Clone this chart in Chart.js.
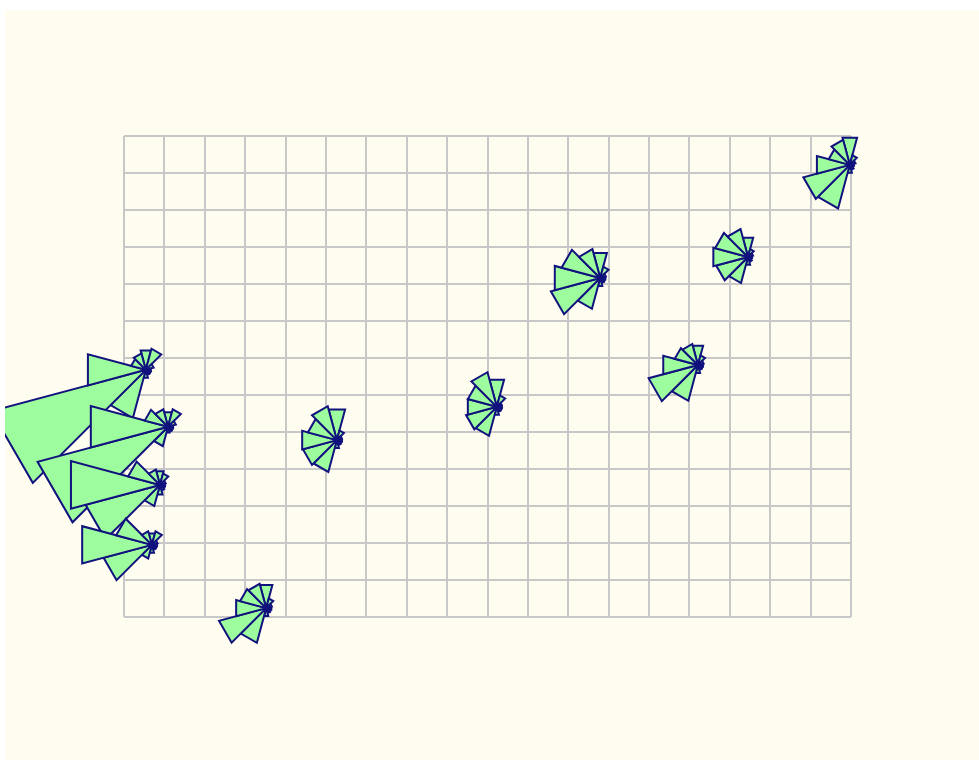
<!DOCTYPE html>
<html>
<head>
<meta charset="utf-8">
<script src="https://cdn.jsdelivr.net/npm/chart.js@4/dist/chart.umd.min.js"></script>
<style>
  html, body { margin: 0; padding: 0; background: #ffffff; }
  #frame { position: absolute; left: 5px; top: 10px; width: 974px; height: 750px; background: #fffdf0; }
  canvas { display: block; }
</style>
</head>
<body>
<div id="frame"><canvas id="c" width="974" height="750"></canvas></div>
<script>
// Station positions on the grid (grid units)
const stationX = [0.54, 1.09, 0.89, 0.69, 3.52, 5.27, 9.23, 11.79, 14.21, 15.45, 17.97];
const stationY = [6.68, 5.14, 3.57, 1.95, 0.24, 4.78, 5.68, 9.16, 6.81, 9.73, 12.22];

// Sector bearings in degrees (0 = north, clockwise)
const directions = [0, 30, 60, 90, 120, 150, 180, 210, 240, 270, 300, 330];

// Sector lengths per station, in the same units as the vertical axis
const fan01 = [0.54, 0.59, 0.22, 0.14, 0.14, 0.14, 0.22, 1.35, 4.32, 1.62, 0.41, 0.46];
const fan02 = [0.41, 0.49, 0.22, 0.14, 0.14, 0.14, 0.16, 0.54, 3.65, 2.16, 0.65, 0.49];
const fan03 = [0.38, 0.32, 0.16, 0.14, 0.14, 0.16, 0.27, 0.59, 2.08, 2.49, 0.89, 0.43];
const fan04 = [0.32, 0.38, 0.16, 0.14, 0.14, 0.14, 0.22, 0.38, 1.35, 1.95, 1.00, 0.38];
const fan05 = [0.65, 0.27, 0.16, 0.14, 0.14, 0.14, 0.22, 0.97, 1.32, 0.84, 0.73, 0.68];
const fan06 = [0.86, 0.27, 0.14, 0.14, 0.14, 0.14, 0.22, 0.89, 0.95, 0.97, 0.81, 0.95];
const fan07 = [0.76, 0.32, 0.14, 0.14, 0.14, 0.14, 0.22, 0.81, 0.86, 0.81, 0.81, 0.97];
const fan08 = [0.70, 0.32, 0.16, 0.14, 0.14, 0.14, 0.22, 0.86, 1.38, 1.27, 1.08, 0.81];
const fan09 = [0.54, 0.27, 0.16, 0.14, 0.14, 0.14, 0.22, 1.00, 1.38, 0.97, 0.65, 0.59];
const fan10 = [0.54, 0.22, 0.14, 0.11, 0.11, 0.14, 0.22, 0.73, 0.89, 0.97, 0.92, 0.78];
const fan11 = [0.76, 0.27, 0.16, 0.11, 0.11, 0.14, 0.22, 1.22, 1.30, 0.92, 0.59, 0.70];

const fans = [fan01, fan02, fan03, fan04, fan05, fan06, fan07, fan08, fan09, fan10, fan11];

const points = stationX.map((x, i) => ({ x: x, y: stationY[i] }));

// Draws one fan of wedges around each station point
const windFans = {
  id: 'windFans',
  afterDatasetsDraw(chart) {
    const ctx = chart.ctx;
    const meta = chart.getDatasetMeta(0);
    const yScale = chart.scales.y;
    const zero = yScale.getPixelForValue(0);
    const half = (360 / directions.length) / 2 * Math.PI / 180;
    ctx.save();
    ctx.lineWidth = 2;
    ctx.lineJoin = 'miter';
    ctx.strokeStyle = '#12127e';
    ctx.fillStyle = '#9dfc9d';
    meta.data.forEach((pt, i) => {
      const cx = pt.x, cy = pt.y;
      fans[i].forEach((v, k) => {
        const r = Math.abs(zero - yScale.getPixelForValue(v));
        const b = directions[k] * Math.PI / 180;
        const a1 = b - half, a2 = b + half;
        ctx.beginPath();
        ctx.moveTo(cx, cy);
        ctx.lineTo(cx + r * Math.sin(a1), cy - r * Math.cos(a1));
        ctx.lineTo(cx + r * Math.sin(a2), cy - r * Math.cos(a2));
        ctx.closePath();
        ctx.fill();
        ctx.stroke();
      });
    });
    ctx.restore();
  }
};

new Chart(document.getElementById('c'), {
  type: 'scatter',
  data: {
    datasets: [{
      data: points,
      pointRadius: 0,
      pointHoverRadius: 0
    }]
  },
  options: {
    responsive: false,
    animation: false,
    devicePixelRatio: 1,
    layout: { padding: { left: 119, top: 126, right: 128, bottom: 143 } },
    plugins: { legend: { display: false }, tooltip: { enabled: false } },
    scales: {
      x: {
        type: 'linear', min: 0, max: 18,
        ticks: { display: false, stepSize: 1 },
        grid: { color: '#c8c8c8', lineWidth: 2, drawTicks: false },
        border: { display: false }
      },
      y: {
        type: 'linear', min: 0, max: 13,
        ticks: { display: false, stepSize: 1 },
        grid: { color: '#c8c8c8', lineWidth: 2, drawTicks: false },
        border: { display: false }
      }
    }
  },
  plugins: [windFans]
});
</script>
</body>
</html>
